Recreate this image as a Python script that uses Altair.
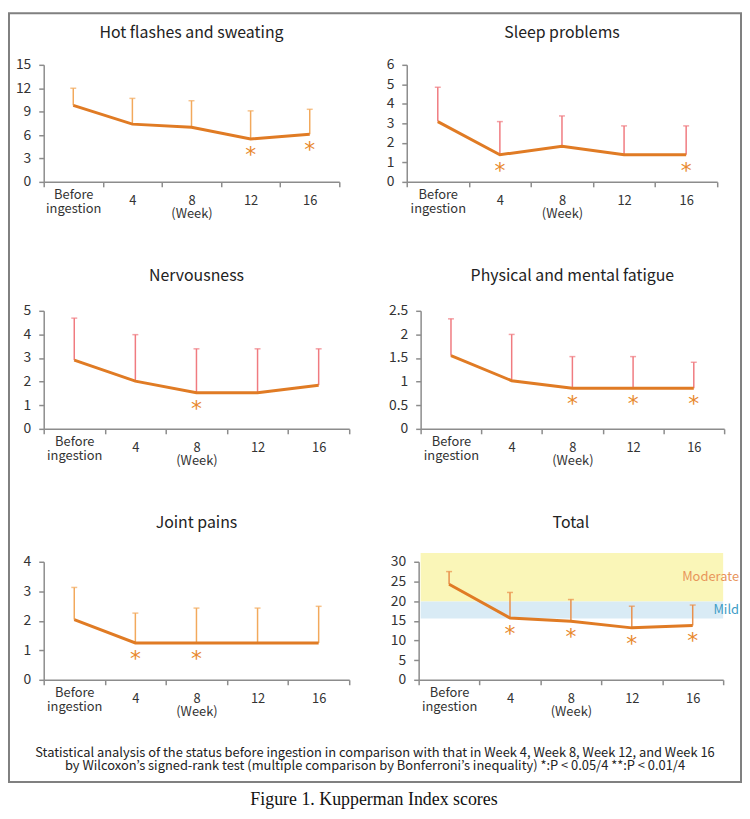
import altair as alt
import pandas as pd

weeks = ["Before ingestion", "4", "8", "12", "16"]

hot_mean = [9.8, 7.4, 7.0, 5.5, 6.1]
hot_upper = [12.0, 10.7, 10.4, 9.1, 9.3]
hot_sig = ["", "", "", "*", "*"]

sleep_mean = [3.09, 1.39, 1.83, 1.39, 1.39]
sleep_upper = [4.85, 3.09, 3.38, 2.87, 2.87]
sleep_sig = ["", "*", "", "", "*"]

nerv_mean = [2.91, 2.02, 1.53, 1.53, 1.85]
nerv_upper = [4.69, 3.99, 3.39, 3.39, 3.39]
nerv_sig = ["", "", "*", "", ""]

fat_mean = [1.55, 1.02, 0.86, 0.86, 0.86]
fat_upper = [2.33, 2.0, 1.53, 1.53, 1.41]
fat_sig = ["", "", "*", "*", "*"]

joint_mean = [2.04, 1.25, 1.25, 1.25, 1.25]
joint_upper = [3.13, 2.26, 2.43, 2.43, 2.49]
joint_sig = ["", "*", "*", "", ""]

total_mean = [24.3, 15.7, 14.9, 13.2, 13.8]
total_upper = [27.5, 22.2, 20.4, 18.7, 19.0]
total_sig = ["", "*", "*", "*", "*"]

hot_ticks = [0, 3, 6, 9, 12, 15]
sleep_ticks = [0, 1, 2, 3, 4, 5, 6]
nerv_ticks = [0, 1, 2, 3, 4, 5]
fat_ticks = [0, 0.5, 1, 1.5, 2, 2.5]
joint_ticks = [0, 1, 2, 3, 4]
total_ticks = [0, 5, 10, 15, 20, 25, 30]

severity = ["Mild", "Moderate"]
sev_low = [15.6, 19.9]
sev_high = [19.9, 32.2]

stat_line1 = "Statistical analysis of the status before ingestion in comparison with that in Week 4, Week 8, Week 12, and Week 16"
stat_line2 = "by Wilcoxon\u2019s signed-rank test (multiple comparison by Bonferroni\u2019s inequality) *:P < 0.05/4 **:P < 0.01/4"
caption_text = "Figure 1. Kupperman Index scores"

FONT = "Noto Sans CJK JP"
LINE = "#e07b24"
STAR = "#e8892e"
AXC = "#8c8c8c"
ORANGE_ERR = "#f2a95c"
PINK_ERR = "#f07b80"
TOTAL_ERR = "#e9904c"


def panel(title, mean, upper, sig, ticks, err_color, w, h, toff, extent, bands=False):
    df = pd.DataFrame({"week": weeks, "mean": mean, "upper": upper, "sig": sig})
    ymax = ticks[-1]
    yscale = alt.Scale(domain=[0, ymax], nice=False, zero=True)
    xenc = alt.X(
        "week:N", sort=weeks,
        scale=alt.Scale(type="band", paddingInner=0, paddingOuter=0),
        axis=alt.Axis(
            title="(Week)", labelAngle=0, tickBand="extent",
            labelExpr="split(datum.label, ' ')", labelBaseline="middle",
            labelLineHeight=14,
            labelPadding={"condition": {"test": "datum.value == 'Before ingestion'", "value": 8}, "value": 14},
            labelFontSize=13, labelColor="#333",
            labelFont=FONT, titleFont=FONT,
            titleFontSize=13, titleFontWeight="normal", titleColor="#333",
            titleY=32, titleBaseline="middle",
            domainColor=AXC, domainWidth=1.5, tickColor=AXC, tickWidth=1.5, tickSize=5,
        ),
    )
    yaxis = alt.Axis(
        title=None, values=ticks, format="~g", grid=False, tickSize=5,
        labelPadding=8, labelFontSize=14, labelColor="#333", labelFont=FONT,
        domainColor=AXC, domainWidth=1.5, tickColor=AXC, tickWidth=1.5,
        minExtent=extent, maxExtent=extent,
    )

    def Y(field):
        return alt.Y(field, scale=yscale, axis=yaxis)

    base = alt.Chart(df).encode(x=xenc)
    layers = []
    if bands:
        sdf = pd.DataFrame({"sev": severity, "low": sev_low, "high": sev_high})
        sbase = alt.Chart(sdf).transform_calculate(mid="(datum.low + datum.high) / 2")
        yellow = sbase.transform_filter("datum.sev == 'Moderate'").mark_rect(color="#faf6b8").encode(
            x=alt.value(2), x2=alt.value("width"), y=Y("low:Q"), y2="high:Q")
        blue = sbase.transform_filter("datum.sev == 'Mild'").mark_rect(color="#d9ebf5").encode(
            x=alt.value(2), x2=alt.value("width"), y=Y("low:Q"), y2="high:Q")
        t_mod = sbase.transform_filter("datum.sev == 'Moderate'").mark_text(
            align="right", baseline="middle", dx=16, fontSize=13, color="#e8955a", font=FONT).encode(
            x=alt.value("width"), y=Y("mid:Q"), text="sev:N")
        t_mild = sbase.transform_filter("datum.sev == 'Mild'").mark_text(
            align="right", baseline="middle", dx=16, fontSize=13, color="#3d9cc6", font=FONT).encode(
            x=alt.value("width"), y=Y("mid:Q"), text="sev:N")
        layers += [yellow, blue, t_mod, t_mild]
    rule = base.mark_rule(color=err_color, strokeWidth=1.5).encode(y=Y("mean:Q"), y2="upper:Q")
    cap = base.mark_tick(color=err_color, size=6, thickness=1.5).encode(y=Y("upper:Q"))
    line = base.mark_line(color=LINE, strokeWidth=3).encode(y=Y("mean:Q"))
    star = base.mark_text(color=STAR, fontSize=22, dy=16, font="DejaVu Sans").encode(
        y=Y("mean:Q"), text="sig:N")
    layers += [rule, cap, line, star]
    return alt.layer(*layers).properties(
        width=w, height=h,
        title=alt.TitleParams(title, fontSize=16, fontWeight="normal", font=FONT, color="#222",
                              offset=toff, anchor="middle", frame="group"),
    )


p_hot = panel("Hot flashes and sweating", hot_mean, hot_upper, hot_sig, hot_ticks, ORANGE_ERR, 298, 118, 17, 36)
p_sleep = panel("Sleep problems", sleep_mean, sleep_upper, sleep_sig, sleep_ticks, PINK_ERR, 313, 118, 17, 25)
p_nerv = panel("Nervousness", nerv_mean, nerv_upper, nerv_sig, nerv_ticks, PINK_ERR, 308, 119, 20, 36)
p_fat = panel("Physical and mental fatigue", fat_mean, fat_upper, fat_sig, fat_ticks, PINK_ERR, 306, 119, 20, 25)
p_joint = panel("Joint pains", joint_mean, joint_upper, joint_sig, joint_ticks, ORANGE_ERR, 308, 119, 24, 36)
p_total = panel("Total", total_mean, total_upper, total_sig, total_ticks, TOTAL_ERR, 307, 119, 22, 25, bands=True)

row1 = alt.hconcat(p_hot, p_sleep, spacing=42)
row2 = alt.hconcat(p_nerv, p_fat, spacing=38)
row3 = alt.hconcat(p_joint, p_total, spacing=40)
rows = alt.vconcat(row1, row2, row3, spacing=48)

one = pd.DataFrame({"a": [0]})
frame_base = alt.Chart(one)
frame_rect = frame_base.mark_rect(fillOpacity=0, stroke="#808080", strokeWidth=2).encode(
    x=alt.value(-28), x2=alt.value(710), y=alt.value(-52), y2=alt.value(723))
stats1 = frame_base.mark_text(
    text=stat_line1, font=FONT, fontSize=13, color="#222", align="center", baseline="middle",
).encode(x=alt.value(341), y=alt.value(694))
stats2 = frame_base.mark_text(
    text=stat_line2, font=FONT, fontSize=13, color="#222", align="center", baseline="middle",
).encode(x=alt.value(341), y=alt.value(707))
cap_text = frame_base.mark_text(
    text=caption_text, font="Liberation Serif", fontSize=18, color="#111",
    align="center", baseline="middle",
).encode(x=alt.value(340), y=alt.value(741))
frame = alt.layer(frame_rect, stats1, stats2, cap_text).properties(width=1, height=1)

chart = alt.hconcat(frame, rows, spacing=6, bounds="flush").properties(
    padding={"left": 0, "top": 1, "right": 0, "bottom": 0}
).configure(font=FONT).configure_view(strokeWidth=0)

chart.save("out.html", embed_options={"renderer": "svg", "actions": False})
